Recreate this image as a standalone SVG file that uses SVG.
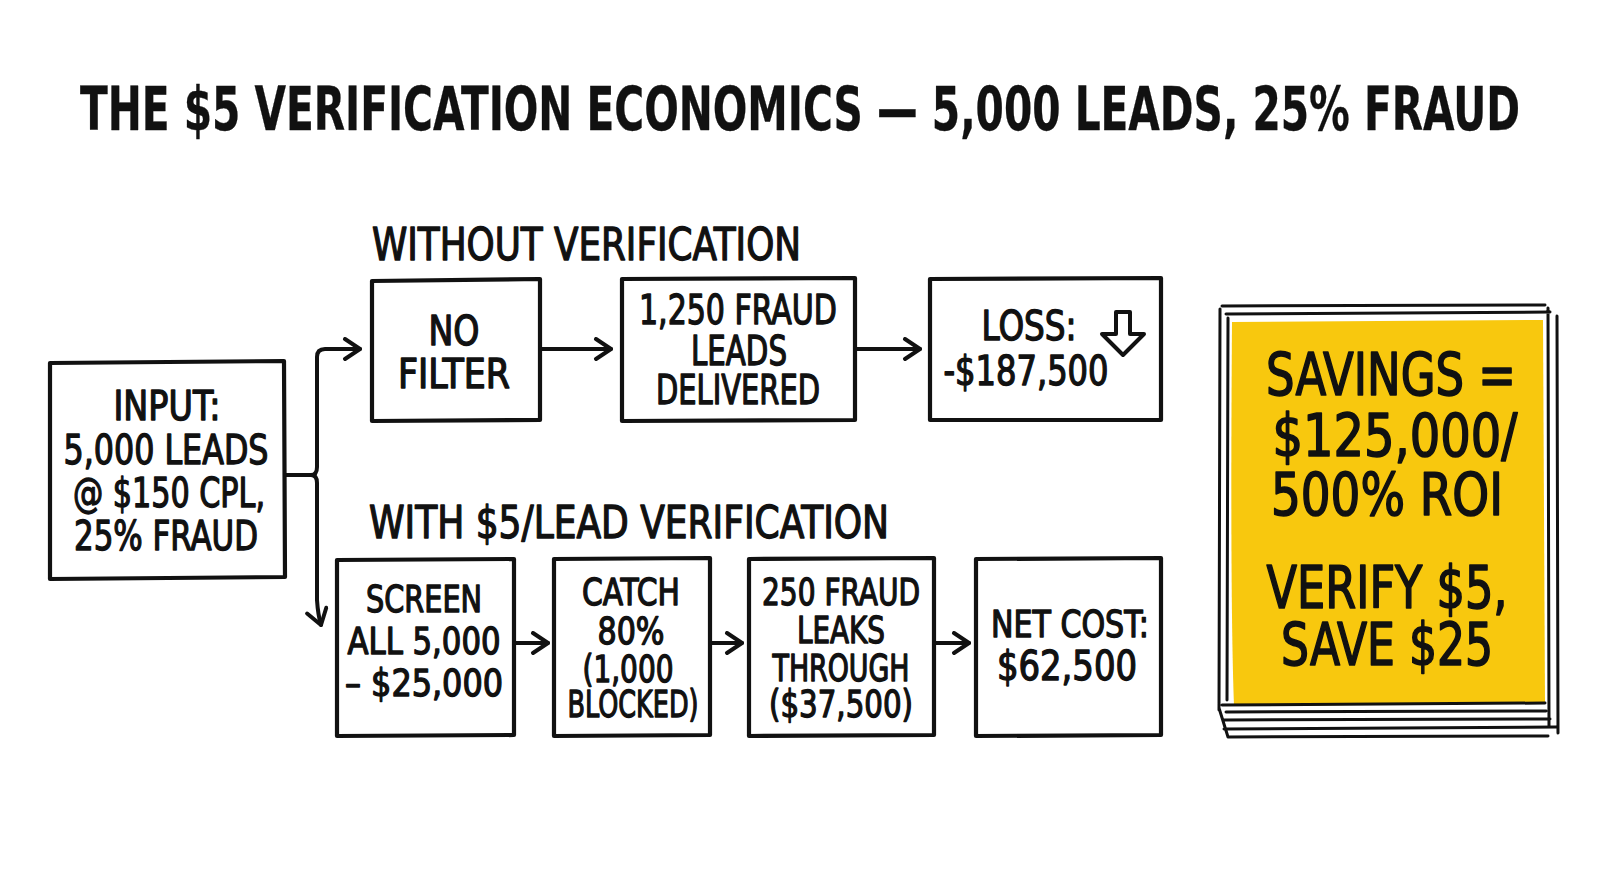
<svg xmlns="http://www.w3.org/2000/svg" width="1600" height="893" viewBox="0 0 1600 893">
<style>
.t{font-family:'Liberation Sans Narrow','DejaVu Sans Condensed','Liberation Sans',sans-serif;fill:#111;text-anchor:middle;stroke:#111;stroke-width:1.3;stroke-linejoin:round}
.title{font-size:60px;font-weight:bold;stroke-width:0.3}
.lbl{font-size:45px;text-anchor:start}
.bx{font-size:40px}
.bs{font-size:37px}
.yt{font-size:59px;stroke-width:1.6}
.box{fill:#fff;stroke:#111;stroke-width:4.2;stroke-linejoin:round;stroke-linecap:round}
.ln{fill:none;stroke:#111;stroke-width:4;stroke-linecap:round;stroke-linejoin:round}
.fr{fill:none;stroke:#111;stroke-width:3;stroke-linecap:round}
</style>
<defs>
<marker id="ah" viewBox="0 0 20 24" refX="18" refY="12" markerWidth="20" markerHeight="24" markerUnits="userSpaceOnUse" orient="auto">
<path d="M3,2 L18,12 L3,22" fill="none" stroke="#111" stroke-width="4" stroke-linecap="round" stroke-linejoin="round"/>
</marker>
</defs>
<rect width="1600" height="893" fill="#fff"/>
<g id="title">
<text class="t title" x="800" y="130" textLength="1440" lengthAdjust="spacingAndGlyphs">THE $5 VERIFICATION ECONOMICS — 5,000 LEADS, 25% FRAUD</text>
</g>
<g id="label-without"><text class="t lbl" x="372" y="260" textLength="429" lengthAdjust="spacingAndGlyphs">WITHOUT VERIFICATION</text></g>
<g id="label-with"><text class="t lbl" x="369" y="538" textLength="520" lengthAdjust="spacingAndGlyphs">WITH $5/LEAD VERIFICATION</text></g>

<g id="connectors">
<path class="ln" d="M285,475 H311 Q317,475 317,467 V357 Q317,349 325,349 H360" marker-end="url(#ah)"/>
<path class="ln" d="M311,475 Q317,475 317,483 V600 Q318,615 321,625" marker-end="url(#ah)"/>
<path class="ln" d="M541,349 H611" marker-end="url(#ah)"/>
<path class="ln" d="M857,349 H920" marker-end="url(#ah)"/>
<path class="ln" d="M515,643 H548" marker-end="url(#ah)"/>
<path class="ln" d="M712,643 H742" marker-end="url(#ah)"/>
<path class="ln" d="M936,643 H969" marker-end="url(#ah)"/>
</g>

<g id="input">
<path class="box" d="M50,363 L284,361 L285,577 L50,579 Z"/>
<text class="t bx" x="167" y="420" textLength="107" lengthAdjust="spacingAndGlyphs">INPUT:</text>
<text class="t bx" x="166" y="464" textLength="205" lengthAdjust="spacingAndGlyphs">5,000 LEADS</text>
<text class="t bx" x="169" y="507" textLength="192" lengthAdjust="spacingAndGlyphs">@ $150 CPL,</text>
<text class="t bx" x="166" y="550" textLength="184" lengthAdjust="spacingAndGlyphs">25% FRAUD</text>
</g>
<g id="no-filter">
<path class="box" d="M372,281 L540,279 L540,420 L372,421 Z"/>
<text class="t bx" x="454" y="345" textLength="51" lengthAdjust="spacingAndGlyphs">NO</text>
<text class="t bx" x="454" y="388" textLength="112" lengthAdjust="spacingAndGlyphs">FILTER</text>
</g>
<g id="fraud-delivered">
<path class="box" d="M622,279 L855,278 L855,420 L622,421 Z"/>
<text class="t bx" x="738" y="324" textLength="198" lengthAdjust="spacingAndGlyphs">1,250 FRAUD</text>
<text class="t bx" x="739" y="365" textLength="96" lengthAdjust="spacingAndGlyphs">LEADS</text>
<text class="t bx" x="738" y="404" textLength="164" lengthAdjust="spacingAndGlyphs">DELIVERED</text>
</g>
<g id="loss">
<path class="box" d="M930,279 L1161,278 L1161,420 L930,420 Z"/>
<text class="t bx" x="1029" y="340" textLength="95" lengthAdjust="spacingAndGlyphs">LOSS:</text>
<text class="t bx" x="1026" y="385" textLength="165" lengthAdjust="spacingAndGlyphs">-$187,500</text>
<path class="ln" d="M1116,312 L1130,312 L1130,334 L1144,334 L1123,355 L1102,334 L1116,334 Z" stroke-width="3.2"/>
</g>
<g id="screen">
<path class="box" d="M337,560 L514,559 L514,735 L337,736 Z"/>
<text class="t bs" x="424" y="612" textLength="116" lengthAdjust="spacingAndGlyphs">SCREEN</text>
<text class="t bs" x="424" y="654" textLength="153" lengthAdjust="spacingAndGlyphs">ALL 5,000</text>
<text class="t bs" x="424" y="696" textLength="158" lengthAdjust="spacingAndGlyphs">– $25,000</text>
</g>
<g id="catch">
<path class="box" d="M554,559 L710,558 L710,735 L554,736 Z"/>
<text class="t bs" x="631" y="605" textLength="98" lengthAdjust="spacingAndGlyphs">CATCH</text>
<text class="t bs" x="631" y="644" textLength="67" lengthAdjust="spacingAndGlyphs">80%</text>
<text class="t bs" x="628" y="682" textLength="91" lengthAdjust="spacingAndGlyphs">(1,000</text>
<text class="t bs" x="633" y="717" font-size="33" textLength="131" lengthAdjust="spacingAndGlyphs">BLOCKED)</text>
</g>
<g id="leaks">
<path class="box" d="M749,559 L934,558 L934,735 L749,736 Z"/>
<text class="t bs" x="841" y="605" textLength="158" lengthAdjust="spacingAndGlyphs">250 FRAUD</text>
<text class="t bs" x="841" y="643" textLength="88" lengthAdjust="spacingAndGlyphs">LEAKS</text>
<text class="t bs" x="841" y="681" textLength="137" lengthAdjust="spacingAndGlyphs">THROUGH</text>
<text class="t bs" x="841" y="717" textLength="144" lengthAdjust="spacingAndGlyphs">($37,500)</text>
</g>
<g id="net-cost">
<path class="box" d="M976,559 L1161,558 L1161,735 L976,736 Z"/>
<text class="t bs" x="1070" y="637" textLength="158" lengthAdjust="spacingAndGlyphs">NET COST:</text>
<text class="t bx" x="1067" y="680" textLength="140" lengthAdjust="spacingAndGlyphs">$62,500</text>
</g>
<g id="savings">
<path d="M1232,322 L1543,320 L1545,703 L1234,706 Q1230,600 1232,322 Z" fill="#F8C80E"/>
<path class="fr" d="M1222,306 L1545,305 M1226,314 L1550,312 M1220,309 L1219,710 M1228,318 L1227,700 M1548,308 L1549,725 M1557,316 L1558,733 M1222,705 L1545,703 M1226,712 L1546,711 M1224,720 L1550,719 M1224,729 L1556,727 M1228,737 L1548,736 M1219,708 L1228,737"/>
<text class="t yt" x="1391" y="395" textLength="250" lengthAdjust="spacingAndGlyphs">SAVINGS =</text>
<text class="t yt" x="1395" y="456" textLength="245" lengthAdjust="spacingAndGlyphs">$125,000/</text>
<text class="t yt" x="1387" y="515" textLength="232" lengthAdjust="spacingAndGlyphs">500% ROI</text>
<text class="t yt" x="1387" y="608" textLength="241" lengthAdjust="spacingAndGlyphs">VERIFY $5,</text>
<text class="t yt" x="1387" y="665" textLength="212" lengthAdjust="spacingAndGlyphs">SAVE $25</text>
</g>
</svg>
